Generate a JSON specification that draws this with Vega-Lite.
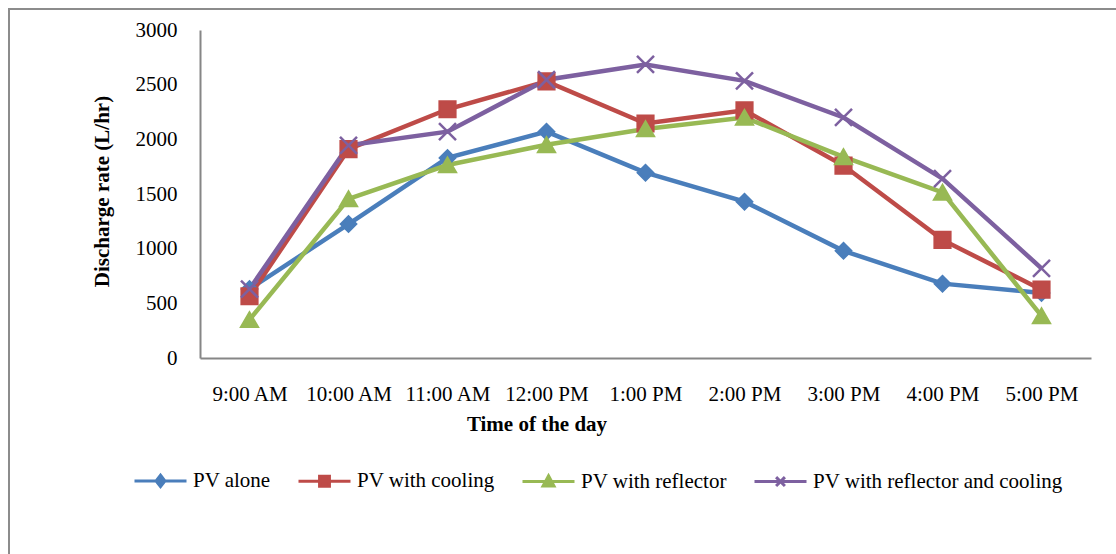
{
  "$schema": "https://vega.github.io/schema/vega-lite/v6.json",
  "width": 1111,
  "height": 549,
  "autosize": {"type": "none"},
  "padding": {"left": 9, "top": 9, "right": -4, "bottom": -4},
  "background": "white",
  "config": {
    "view": {"stroke": "#8c8c8c", "strokeWidth": 2},
    "font": "Liberation Serif",
    "axis": {
      "domainColor": "#868686",
      "domainWidth": 2,
      "ticks": false,
      "tickSize": 0,
      "grid": false,
      "labelFont": "Liberation Serif",
      "labelFontSize": 21,
      "labelColor": "#000000",
      "titleFont": "Liberation Serif",
      "titleFontSize": 21,
      "titleFontWeight": "bold",
      "titleColor": "#000000"
    },
    "legend": {
      "orient": "none",
      "legendX": 124,
      "legendY": 444,
      "direction": "horizontal",
      "labelFont": "Liberation Serif",
      "labelFontSize": 21,
      "labelColor": "#000000",
      "labelLimit": 0,
      "symbolSize": 2704,
      "symbolStrokeWidth": 3,
      "labelOffset": 5,
      "columnPadding": 21,
      "padding": 0
    }
  },
  "data": {
    "values": [
      {"time": "9:00 AM", "series": "PV alone", "rate": 630},
      {"time": "10:00 AM", "series": "PV alone", "rate": 1225},
      {"time": "11:00 AM", "series": "PV alone", "rate": 1830},
      {"time": "12:00 PM", "series": "PV alone", "rate": 2070},
      {"time": "1:00 PM", "series": "PV alone", "rate": 1695},
      {"time": "2:00 PM", "series": "PV alone", "rate": 1430},
      {"time": "3:00 PM", "series": "PV alone", "rate": 980},
      {"time": "4:00 PM", "series": "PV alone", "rate": 680},
      {"time": "5:00 PM", "series": "PV alone", "rate": 595},
      {"time": "9:00 AM", "series": "PV with cooling", "rate": 565},
      {"time": "10:00 AM", "series": "PV with cooling", "rate": 1910},
      {"time": "11:00 AM", "series": "PV with cooling", "rate": 2275},
      {"time": "12:00 PM", "series": "PV with cooling", "rate": 2530},
      {"time": "1:00 PM", "series": "PV with cooling", "rate": 2145},
      {"time": "2:00 PM", "series": "PV with cooling", "rate": 2265},
      {"time": "3:00 PM", "series": "PV with cooling", "rate": 1760},
      {"time": "4:00 PM", "series": "PV with cooling", "rate": 1080},
      {"time": "5:00 PM", "series": "PV with cooling", "rate": 625},
      {"time": "9:00 AM", "series": "PV with reflector", "rate": 350},
      {"time": "10:00 AM", "series": "PV with reflector", "rate": 1455},
      {"time": "11:00 AM", "series": "PV with reflector", "rate": 1765},
      {"time": "12:00 PM", "series": "PV with reflector", "rate": 1950},
      {"time": "1:00 PM", "series": "PV with reflector", "rate": 2095},
      {"time": "2:00 PM", "series": "PV with reflector", "rate": 2200},
      {"time": "3:00 PM", "series": "PV with reflector", "rate": 1840},
      {"time": "4:00 PM", "series": "PV with reflector", "rate": 1515},
      {"time": "5:00 PM", "series": "PV with reflector", "rate": 385},
      {"time": "9:00 AM", "series": "PV with reflector and cooling", "rate": 630},
      {"time": "10:00 AM", "series": "PV with reflector and cooling", "rate": 1945},
      {"time": "11:00 AM", "series": "PV with reflector and cooling", "rate": 2070},
      {"time": "12:00 PM", "series": "PV with reflector and cooling", "rate": 2545},
      {"time": "1:00 PM", "series": "PV with reflector and cooling", "rate": 2685},
      {"time": "2:00 PM", "series": "PV with reflector and cooling", "rate": 2535},
      {"time": "3:00 PM", "series": "PV with reflector and cooling", "rate": 2200},
      {"time": "4:00 PM", "series": "PV with reflector and cooling", "rate": 1640},
      {"time": "5:00 PM", "series": "PV with reflector and cooling", "rate": 820}
    ]
  },
  "encoding": {
    "x": {
      "field": "time",
      "type": "ordinal",
      "sort": ["9:00 AM", "10:00 AM", "11:00 AM", "12:00 PM", "1:00 PM", "2:00 PM", "3:00 PM", "4:00 PM", "5:00 PM"],
      "scale": {"type": "point", "range": [191, 1082], "padding": 0.5},
      "axis": {
        "title": "Time of the day",
        "offset": -200,
        "labelAngle": 0,
        "labelPadding": 25,
        "titleX": 527.5,
        "titleY": 72,
        "titleBaseline": "alphabetic",
        "titleAlign": "center"
      }
    },
    "y": {
      "field": "rate",
      "type": "quantitative",
      "scale": {"domain": [0, 3000], "range": [349, 21], "nice": false},
      "axis": {
        "title": "Discharge rate (L/hr)",
        "values": [0, 500, 1000, 1500, 2000, 2500, 3000],
        "format": "d",
        "offset": -191,
        "labelPadding": 23,
        "titleAngle": 270,
        "titleX": -92,
        "titleY": 182,
        "titleBaseline": "alphabetic",
        "titleAlign": "center"
      }
    }
  },
  "layer": [
    {
      "mark": {"type": "line", "strokeWidth": 4.5},
      "encoding": {
        "color": {
          "field": "series",
          "type": "nominal",
          "scale": {
            "domain": ["PV alone", "PV with cooling", "PV with reflector", "PV with reflector and cooling"],
            "range": ["#4A7EBB", "#BE4B48", "#98B954", "#7D60A0"]
          },
          "legend": null
        }
      }
    },
    {
      "mark": {"type": "point", "filled": true, "strokeWidth": 2.5, "opacity": 1},
      "encoding": {
        "color": {
          "field": "series",
          "type": "nominal",
          "scale": {
            "domain": ["PV alone", "PV with cooling", "PV with reflector", "PV with reflector and cooling"],
            "range": ["#4A7EBB", "#BE4B48", "#98B954", "#7D60A0"]
          },
          "legend": null
        },
        "stroke": {
          "field": "series",
          "type": "nominal",
          "scale": {
            "domain": ["PV alone", "PV with cooling", "PV with reflector", "PV with reflector and cooling"],
            "range": ["#4A7EBB", "#BE4B48", "#98B954", "#7D60A0"]
          },
          "legend": null
        },
        "shape": {
          "field": "series",
          "type": "nominal",
          "scale": {
            "domain": ["PV alone", "PV with cooling", "PV with reflector", "PV with reflector and cooling"],
            "range": ["diamond", "square", "triangle-up", "M-1,-1L1,1M-1,1L1,-1"]
          },
          "legend": null
        },
        "size": {
          "field": "series",
          "type": "nominal",
          "scale": {
            "domain": ["PV alone", "PV with cooling", "PV with reflector", "PV with reflector and cooling"],
            "range": [225, 289, 324, 380]
          },
          "legend": null
        }
      }
    },
    {
      "transform": [{"filter": "datum.rate < 0"}],
      "mark": {"type": "point", "filled": true, "size": 2704, "strokeWidth": 3, "opacity": 1},
      "encoding": {
        "shape": {
          "field": "series",
          "type": "nominal",
          "scale": {
            "domain": ["PV alone", "PV with cooling", "PV with reflector", "PV with reflector and cooling"],
            "range": [
              "M-1,0H1M0,-0.22L0.17,0L0,0.22L-0.17,0Z",
              "M-1,0H1M-0.19,-0.19H0.19V0.19H-0.19Z",
              "M-1,0H1M0,-0.22L0.21,0.17H-0.21Z",
              "M-1,0H1M-0.17,-0.17L0.17,0.17M-0.17,0.17L0.17,-0.17"
            ]
          },
          "legend": {"title": null}
        },
        "fill": {
          "field": "series",
          "type": "nominal",
          "scale": {
            "domain": ["PV alone", "PV with cooling", "PV with reflector", "PV with reflector and cooling"],
            "range": ["#4A7EBB", "#BE4B48", "#98B954", "#7D60A0"]
          },
          "legend": {"title": null}
        },
        "stroke": {
          "field": "series",
          "type": "nominal",
          "scale": {
            "domain": ["PV alone", "PV with cooling", "PV with reflector", "PV with reflector and cooling"],
            "range": ["#4A7EBB", "#BE4B48", "#98B954", "#7D60A0"]
          },
          "legend": {"title": null}
        }
      }
    }
  ],
  "resolve": {"scale": {"shape": "independent", "stroke": "independent", "fill": "independent"}}
}
